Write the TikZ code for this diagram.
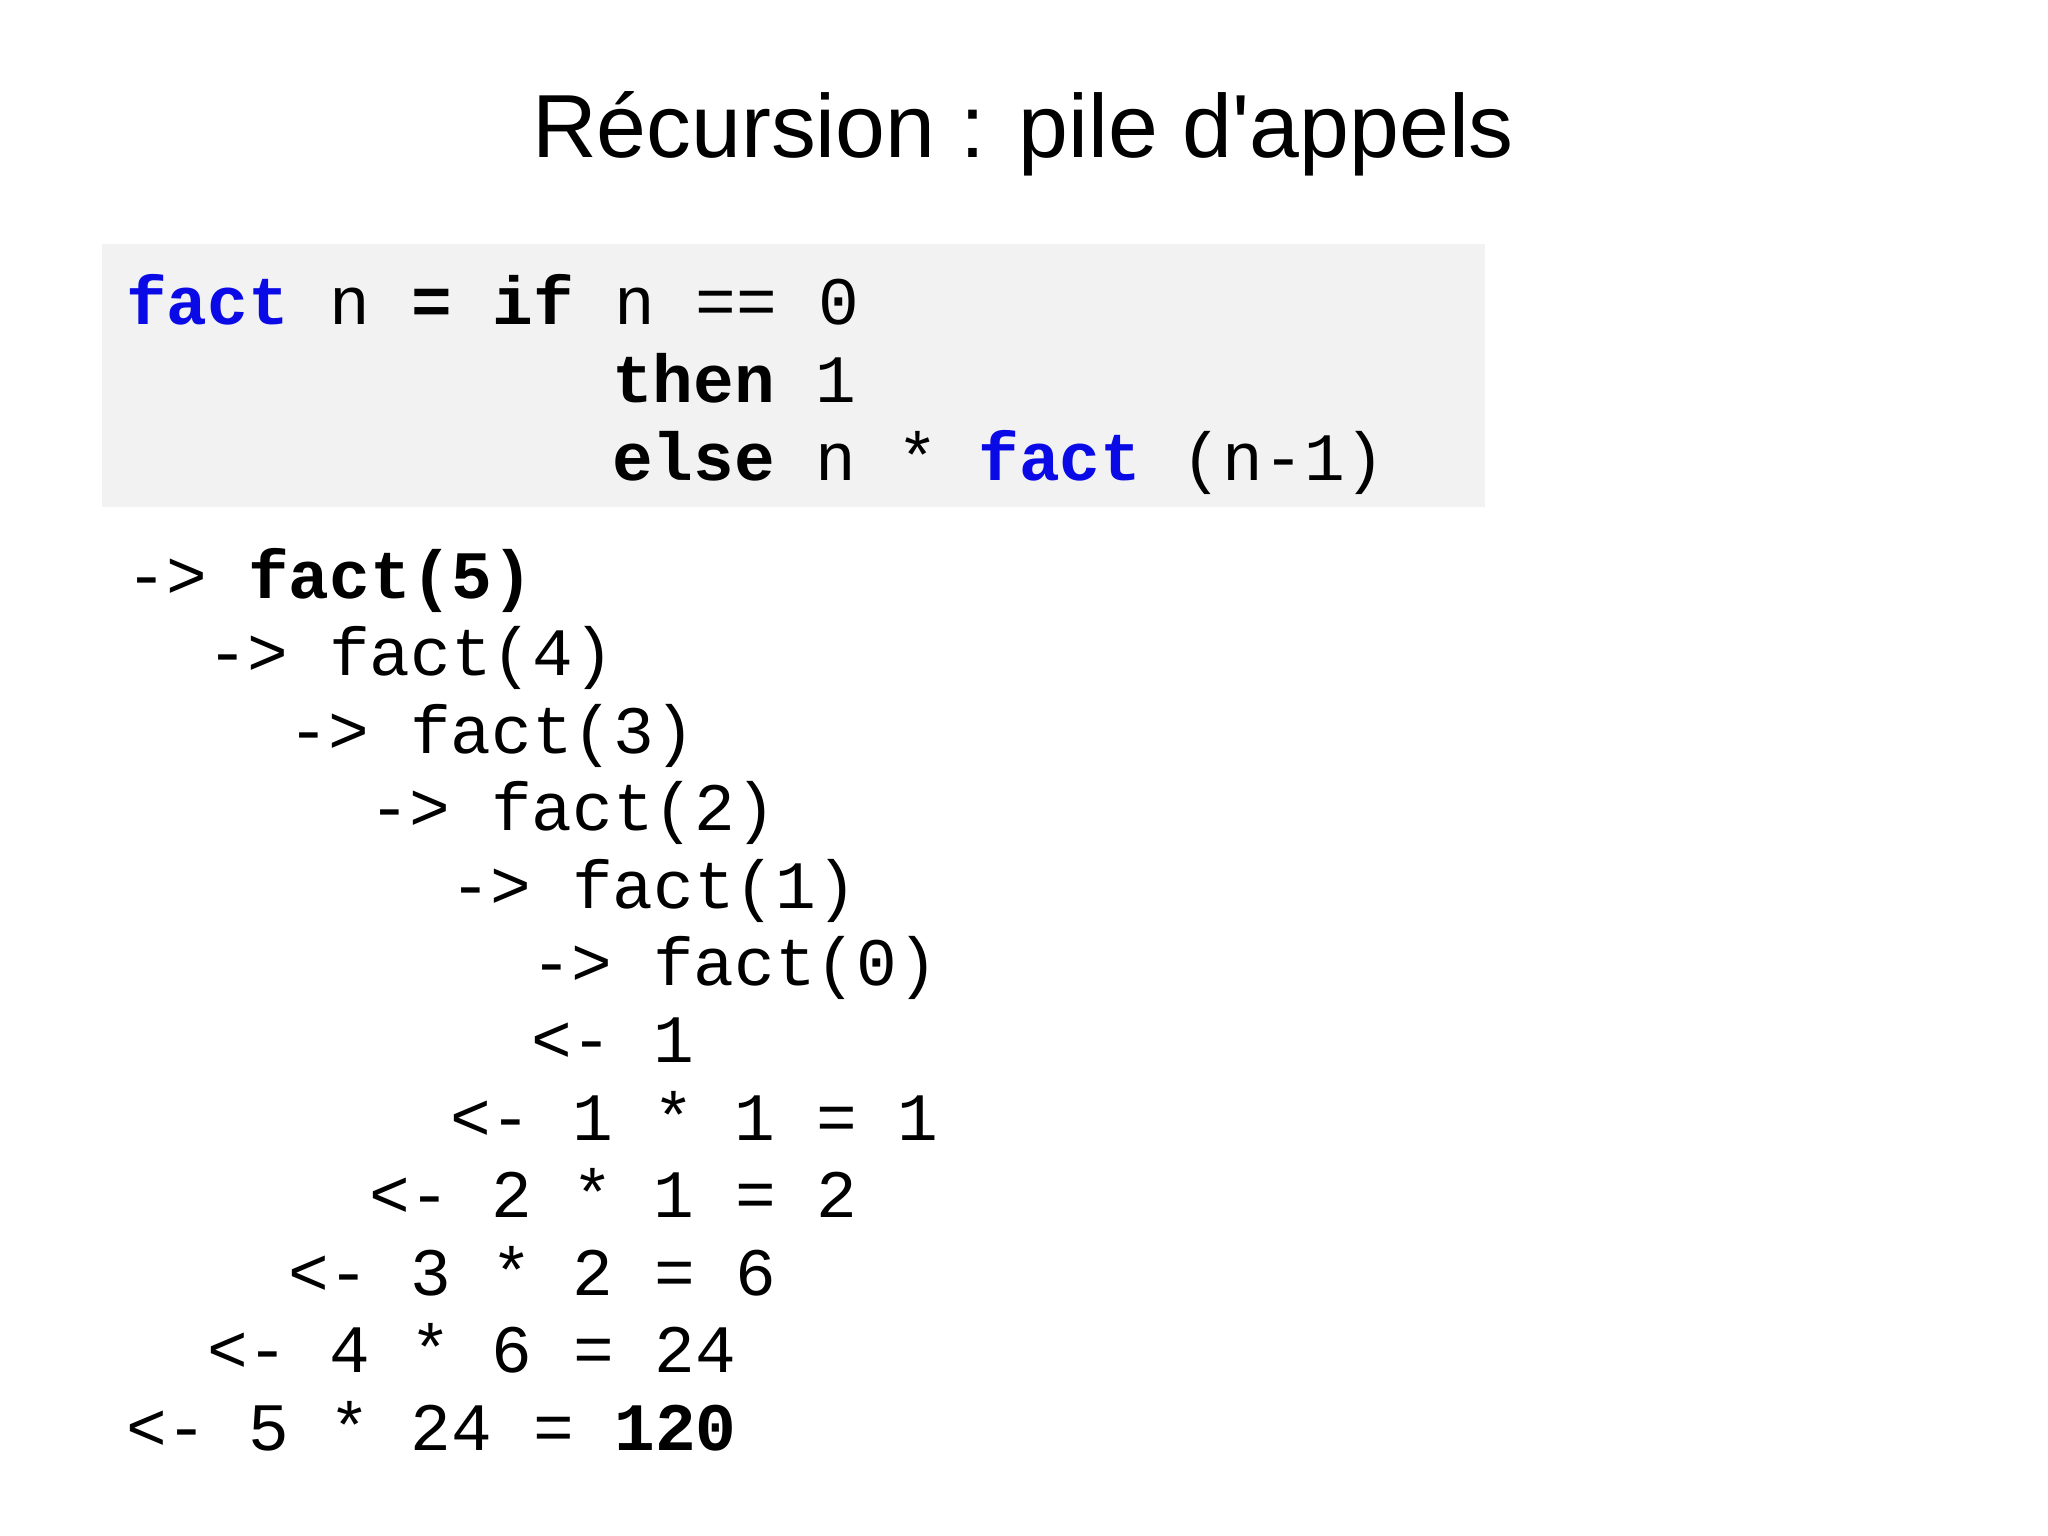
\documentclass[tikz,border=0pt]{standalone}
\usepackage{fontspec}
\setmainfont{Liberation Sans}[Ligatures=TeXOff]
\setmonofont{Liberation Mono}
\definecolor{kwblue}{RGB}{10,10,230}
\definecolor{codebg}{RGB}{242,242,242}
\begin{document}
\begin{tikzpicture}[x=1cm,y=1cm,
  code/.style={anchor=base west,inner sep=0pt,font=\fontsize{19.3}{20}\ttfamily}]
\useasboundingbox (0,0) rectangle (20.48,15.36);
\newcommand{\bk}[1]{\textbf{\textcolor{kwblue}{#1}}}
\node[font=\fontsize{25.5}{28}\selectfont] (title) at (10.23,14.02) {Récursion : pile d'appels};
\fill[codebg] (1.02,12.92) rectangle (14.85,10.29);
\def\cw{0.405}
\def\xo{1.254}
\node[code] (c1) at (\xo,12.11) {\bk{fact} n \textbf{=} \textbf{if} n == 0};
\node[code] (c2) at ({\xo+12*\cw},{12.11-0.777}) {\textbf{then} 1};
\node[code] (c3) at ({\xo+12*\cw},{12.11-2*0.777}) {\textbf{else} n * \bk{fact} (n-1)};
\foreach \i/\c/\t in {0/0/{-> \textbf{fact(5)}},1/2/{-> fact(4)},2/4/{-> fact(3)},3/6/{-> fact(2)},4/8/{-> fact(1)},5/10/{-> fact(0)},6/10/{<- 1},7/8/{<- 1 * 1 = 1},8/6/{<- 2 * 1 = 2},9/4/{<- 3 * 2 = 6},10/2/{<- 4 * 6 = 24},11/0/{<- 5 * 24 = \textbf{120}}}
  \node[code] (s\i) at ({\xo+\c*\cw},{15.36-(458+59.3*\i)*0.01306}) {\t};
\end{tikzpicture}
\end{document}
